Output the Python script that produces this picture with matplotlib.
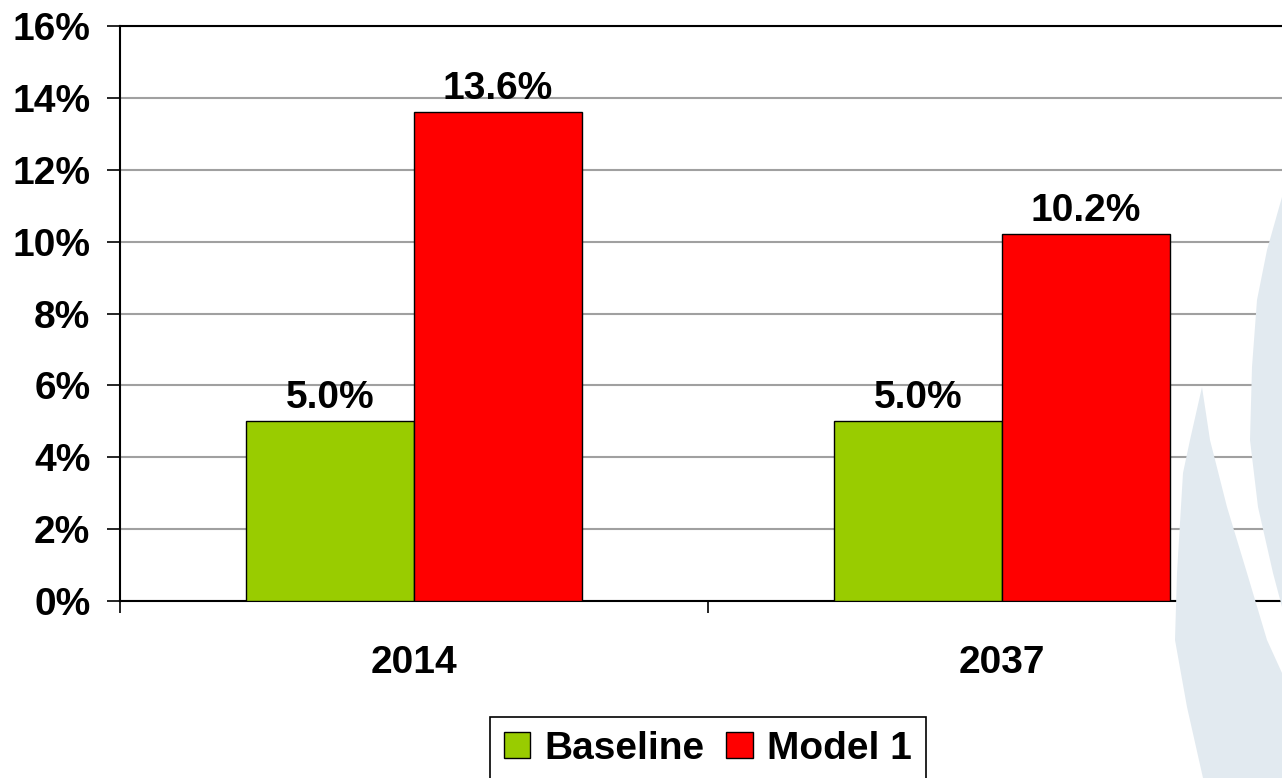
import numpy as np
import matplotlib.pyplot as plt
from matplotlib.patches import Polygon
from matplotlib.ticker import FuncFormatter

# Données du graphique
annees = ["2014", "2037"]
baseline = [5.0, 5.0]
model1 = [13.6, 10.2]
series = ["Baseline", "Model 1"]
couleurs = ["#99CC00", "#FF0000"]

W, H = 1282, 778
plt.rcParams["font.family"] = ["Liberation Sans", "DejaVu Sans"]
plt.rcParams["font.weight"] = "bold"
fs = 28

fig = plt.figure(figsize=(W / 100, H / 100), dpi=100)


def px(points):
    # conversion pixels -> coordonnées figure
    return [(x / W, 1 - y / H) for x, y in points]


# Filigrane (logo) en fond à droite
forme_a = [(1282, 197), (1267, 250), (1257, 300), (1252, 367), (1250, 440),
           (1258, 507), (1273, 573), (1282, 607)]
forme_b = [(1202, 387), (1190, 440), (1183, 473), (1177, 573), (1175, 640),
           (1187, 707), (1203, 778), (1282, 778), (1282, 673), (1267, 640),
           (1247, 573), (1227, 507), (1210, 440)]
for forme in (forme_a, forme_b):
    fig.patches.append(Polygon(px(forme), closed=True, transform=fig.transFigure,
                               facecolor="#E2EAF0", edgecolor="none", zorder=0))

ax = fig.add_axes([120 / W, (H - 601) / H, (1296 - 120) / W, (601 - 26) / H])
ax.patch.set_alpha(0)

x = np.arange(len(annees))
largeur = 0.2857
b1 = ax.bar(x - largeur / 2, baseline, largeur, color=couleurs[0],
            edgecolor="black", linewidth=1, label=series[0], zorder=3)
b2 = ax.bar(x + largeur / 2, model1, largeur, color=couleurs[1],
            edgecolor="black", linewidth=1, label=series[1], zorder=3)
for b in (b1, b2):
    ax.bar_label(b, labels=[f"{v:.1f}%" for v in b.datavalues], padding=4,
                 fontsize=fs, fontweight="bold")

ax.set_xlim(-0.5, 1.5)
ax.set_ylim(0, 16)
ax.set_yticks(np.arange(0, 17, 2))
ax.yaxis.set_major_formatter(FuncFormatter(lambda v, p: f"{v:.0f}%"))
ax.yaxis.grid(True, color="#A0A0A0", linewidth=1.5, zorder=0)

ax.set_xticks(x)
ax.set_xticklabels(annees)
ax.set_xticks([-0.5, 0.5, 1.5], minor=True)
ax.tick_params(axis="x", which="major", length=0, pad=32, labelsize=fs)
ax.tick_params(axis="x", which="minor", length=8.6, width=1.2, direction="out")
ax.tick_params(axis="y", length=9.4, width=1.2, pad=12, labelsize=fs)

for s in ("left", "bottom", "top"):
    ax.spines[s].set_linewidth(1.5)
    ax.spines[s].set_color("black")
ax.spines["right"].set_visible(False)

leg = fig.legend(loc="upper center", bbox_to_anchor=(708 / W, 1 - 717 / H),
                 ncol=2, fontsize=fs, frameon=True, fancybox=False,
                 edgecolor="black", framealpha=1, handlelength=0.68,
                 handleheight=0.68, handletextpad=0.37, columnspacing=0.55,
                 borderpad=0.35, borderaxespad=0)
leg.get_frame().set_linewidth(1.2)

fig.savefig("out.png", dpi=100)
